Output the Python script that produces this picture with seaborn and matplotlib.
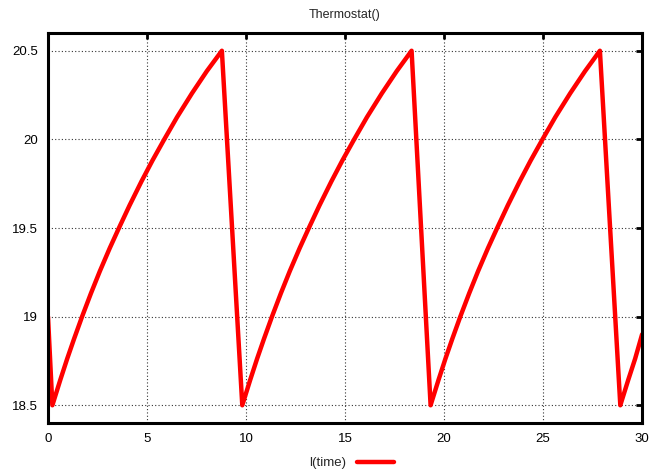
import pandas as pd
import matplotlib
matplotlib.use("Agg")
import matplotlib.pyplot as plt
import seaborn as sns

# Data (simulated room temperature)
time = [0, 0.22, 0.62, 0.97, 1.32, 1.72, 2.17, 2.62, 3.12, 3.59, 4.12,
        4.72, 5.27, 5.87, 6.52, 7.27, 8.02, 8.78,
        9.81, 10.21, 10.56, 10.91, 11.31, 11.76, 12.21, 12.71, 13.18,
        13.71, 14.31, 14.86, 15.46, 16.11, 16.86, 17.61, 18.36,
        19.32, 19.72, 20.07, 20.42, 20.82, 21.27, 21.72, 22.22, 22.69,
        23.22, 23.82, 24.37, 24.97, 25.62, 26.37, 27.12, 27.87,
        28.9, 29.3, 29.65, 30]
temp = [19.0, 18.5, 18.643, 18.763, 18.876, 19.0, 19.132, 19.257, 19.387,
        19.502, 19.628, 19.763, 19.88, 20.0, 20.126, 20.26, 20.385, 20.5,
        18.5, 18.643, 18.763, 18.876, 19.0, 19.132, 19.257, 19.387,
        19.502, 19.628, 19.763, 19.88, 20.0, 20.126, 20.26, 20.385, 20.5,
        18.5, 18.643, 18.763, 18.876, 19.0, 19.132, 19.257, 19.387,
        19.502, 19.628, 19.763, 19.88, 20.0, 20.126, 20.26, 20.385, 20.5,
        18.5, 18.643, 18.763, 18.9]

x_ticks = [0, 5, 10, 15, 20, 25, 30]
y_ticks = [18.5, 19, 19.5, 20, 20.5]
y_labels = ["18.5", "19", "19.5", "20", "20.5"]

df = pd.DataFrame({"time": time, "temp": temp})

# Style
sns.set_style("white")
plt.rcParams["font.family"] = ["Liberation Sans", "DejaVu Sans"]

fig = plt.figure(figsize=(6.64, 4.73), dpi=100)
ax = fig.add_axes([0.0723, 0.1057, 0.8947, 0.8245])

sns.lineplot(data=df, x="time", y="temp", ax=ax, color="#ff0000",
             linewidth=3.2, label="l(time)", legend=False, sort=False)

ax.set_xlim(0, 30)
ax.set_ylim(18.4, 20.6)
ax.set_xticks(x_ticks)
ax.set_xticklabels([str(t) for t in x_ticks])
ax.set_yticks(y_ticks)
ax.set_yticklabels(y_labels)
ax.set_xlabel("")
ax.set_ylabel("")

# Grid + frame (gnuplot look)
ax.grid(True, linestyle=(0, (1, 2)), color="#333333", linewidth=0.8)
for s in ax.spines.values():
    s.set_linewidth(2.2)
    s.set_color("black")
ax.tick_params(direction="in", length=4, width=2, top=True, right=True,
               labelsize=9.5, pad=7, colors="black")

ax.set_title("Thermostat()", fontsize=9, pad=11)

# Legend below the plot
handles, labels = ax.get_legend_handles_labels()
fig.legend(handles, labels, loc="center", bbox_to_anchor=(0.529, 0.021),
           frameon=False, markerfirst=False, fontsize=9.5,
           handlelength=2.8, handletextpad=0.8)

fig.savefig("out.png", dpi=100)
